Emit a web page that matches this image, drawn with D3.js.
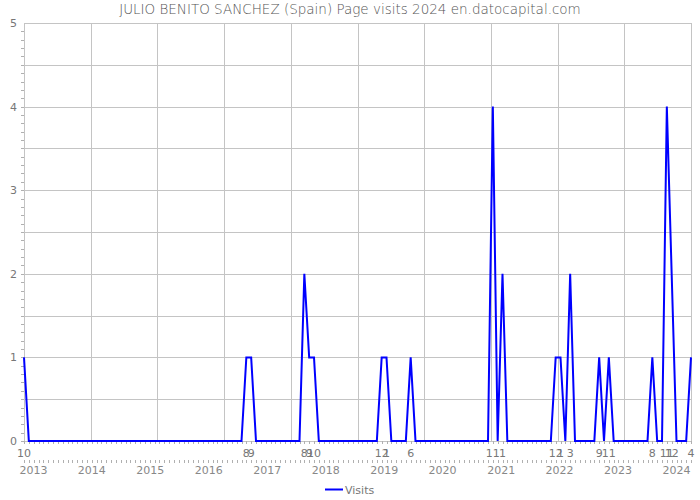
<!DOCTYPE html>
<html><head><meta charset="utf-8">
<script src="https://cdn.jsdelivr.net/npm/d3@7"></script>
<style>body{margin:0;background:#fff}svg{display:block}</style>
</head><body>
<script>
const title = "JULIO BENITO SANCHEZ (Spain) Page visits 2024 en.datocapital.com";
const startMonth = [2012, 10];   // Oct 2012
const visits = [
  1,0,0,                    // 2012 Oct-Dec
  0,0,0,0,0,0,0,0,0,0,0,0,  // 2013
  0,0,0,0,0,0,0,0,0,0,0,0,  // 2014
  0,0,0,0,0,0,0,0,0,0,0,0,  // 2015
  0,0,0,0,0,0,0,1,1,0,0,0,  // 2016
  0,0,0,0,0,0,0,2,1,1,0,0,  // 2017
  0,0,0,0,0,0,0,0,0,0,0,1,  // 2018
  1,0,0,0,0,1,0,0,0,0,0,0,  // 2019
  0,0,0,0,0,0,0,0,0,0,4,0,  // 2020
  2,0,0,0,0,0,0,0,0,0,0,1,  // 2021
  1,0,2,0,0,0,0,0,1,0,1,0,  // 2022
  0,0,0,0,0,0,0,1,0,0,4,2,  // 2023
  0,0,0,1                   // 2024 Jan-Apr
];
const yTicks = [0,1,2,3,4,5];
const yearLabels = [2013,2014,2015,2016,2017,2018,2019,2020,2021,2022,2023,2024];
const legendLabel = "Visits";

const W = 700, H = 500;
const svg = d3.select("body").append("svg").attr("width", W).attr("height", H);
const font = "'DejaVu Sans', sans-serif";

const data = visits.map((v, i) => {
  const d = new Date(startMonth[0], startMonth[1] - 1 + i, 1);
  return {i, v, date: d, m: d.getMonth() + 1};
});

const x = d3.scaleLinear().domain([0, visits.length - 1]).range([24, 691]);
const y = d3.scaleLinear().domain([0, 5]).range([441, 23]);
const xt = d3.scaleTime().domain([new Date(2012, 10, 3), new Date(2024, 3, 1)]).range([24, 691]);

// grid
const g = svg.append("g");
g.selectAll(".hg").data(d3.range(0, 5.01, 0.5)).join("line")
  .attr("x1", 24).attr("x2", 691)
  .attr("y1", d => Math.round(y(d)) + 0.5).attr("y2", d => Math.round(y(d)) + 0.5)
  .attr("stroke", "#c4c4c4").attr("stroke-width", 1);
const vg = d3.scaleLinear().domain([0, 10]).range([24, 691]);
g.selectAll(".vg").data(d3.range(0, 11)).join("line")
  .attr("x1", d => Math.round(vg(d)) + 0.5).attr("x2", d => Math.round(vg(d)) + 0.5)
  .attr("y1", 23).attr("y2", 441)
  .attr("stroke", "#c4c4c4").attr("stroke-width", 1);

// y axis minor ticks
g.selectAll(".ym").data(d3.range(0, 50)).join("line")
  .attr("x1", 21).attr("x2", 24)
  .attr("y1", d => Math.round(y(d / 10)) + 0.5).attr("y2", d => Math.round(y(d / 10)) + 0.5)
  .attr("stroke", "#b0b0b0");
g.selectAll(".yl").data(yTicks).join("text")
  .attr("x", 17).attr("y", d => y(d) + 4)
  .attr("text-anchor", "end").attr("font-family", font).attr("font-size", 11)
  .attr("fill", "#777").text(d => d);

// bottom month ticks
g.selectAll(".bt").data(data).join("line")
  .attr("x1", d => Math.round(x(d.i)) + 0.5).attr("x2", d => Math.round(x(d.i)) + 0.5)
  .attr("y1", 441).attr("y2", 444).attr("stroke", "#b0b0b0");
g.selectAll(".bt2").data(data).join("line")
  .attr("x1", d => Math.round(x(d.i)) + 0.5).attr("x2", d => Math.round(x(d.i)) + 0.5)
  .attr("y1", 460).attr("y2", 463).attr("stroke", "#b0b0b0");

// month labels for nonzero points
g.selectAll(".ml").data(data.filter(d => d.v > 0)).join("text")
  .attr("x", d => x(d.i)).attr("y", 457)
  .attr("text-anchor", "middle").attr("font-family", font).attr("font-size", 11)
  .attr("fill", "#777").text(d => d.m);

// year labels
g.selectAll(".yr").data(yearLabels).join("text")
  .attr("x", d => xt(new Date(d, 0, 1))).attr("y", 474)
  .attr("text-anchor", "middle").attr("font-family", font).attr("font-size", 11)
  .attr("fill", "#888").text(d => d);

// line
const line = d3.line().x(d => x(d.i)).y(d => y(d.v));
svg.append("path").datum(data).attr("d", line)
  .attr("fill", "none").attr("stroke", "#0000ff").attr("stroke-width", 2)
  .attr("stroke-linejoin", "miter");

// title
svg.append("text").attr("x", 350).attr("y", 14).attr("text-anchor", "middle")
  .attr("font-family", font).attr("font-size", 13.5).attr("font-weight", 200)
  .attr("fill", "#555").text(title);

// legend
svg.append("line").attr("x1", 325).attr("x2", 343).attr("y1", 489.5).attr("y2", 489.5)
  .attr("stroke", "#0000ff").attr("stroke-width", 2);
svg.append("text").attr("x", 345).attr("y", 493.5).attr("font-family", font).attr("font-size", 11)
  .attr("fill", "#777").text(legendLabel);
</script>
</body></html>
